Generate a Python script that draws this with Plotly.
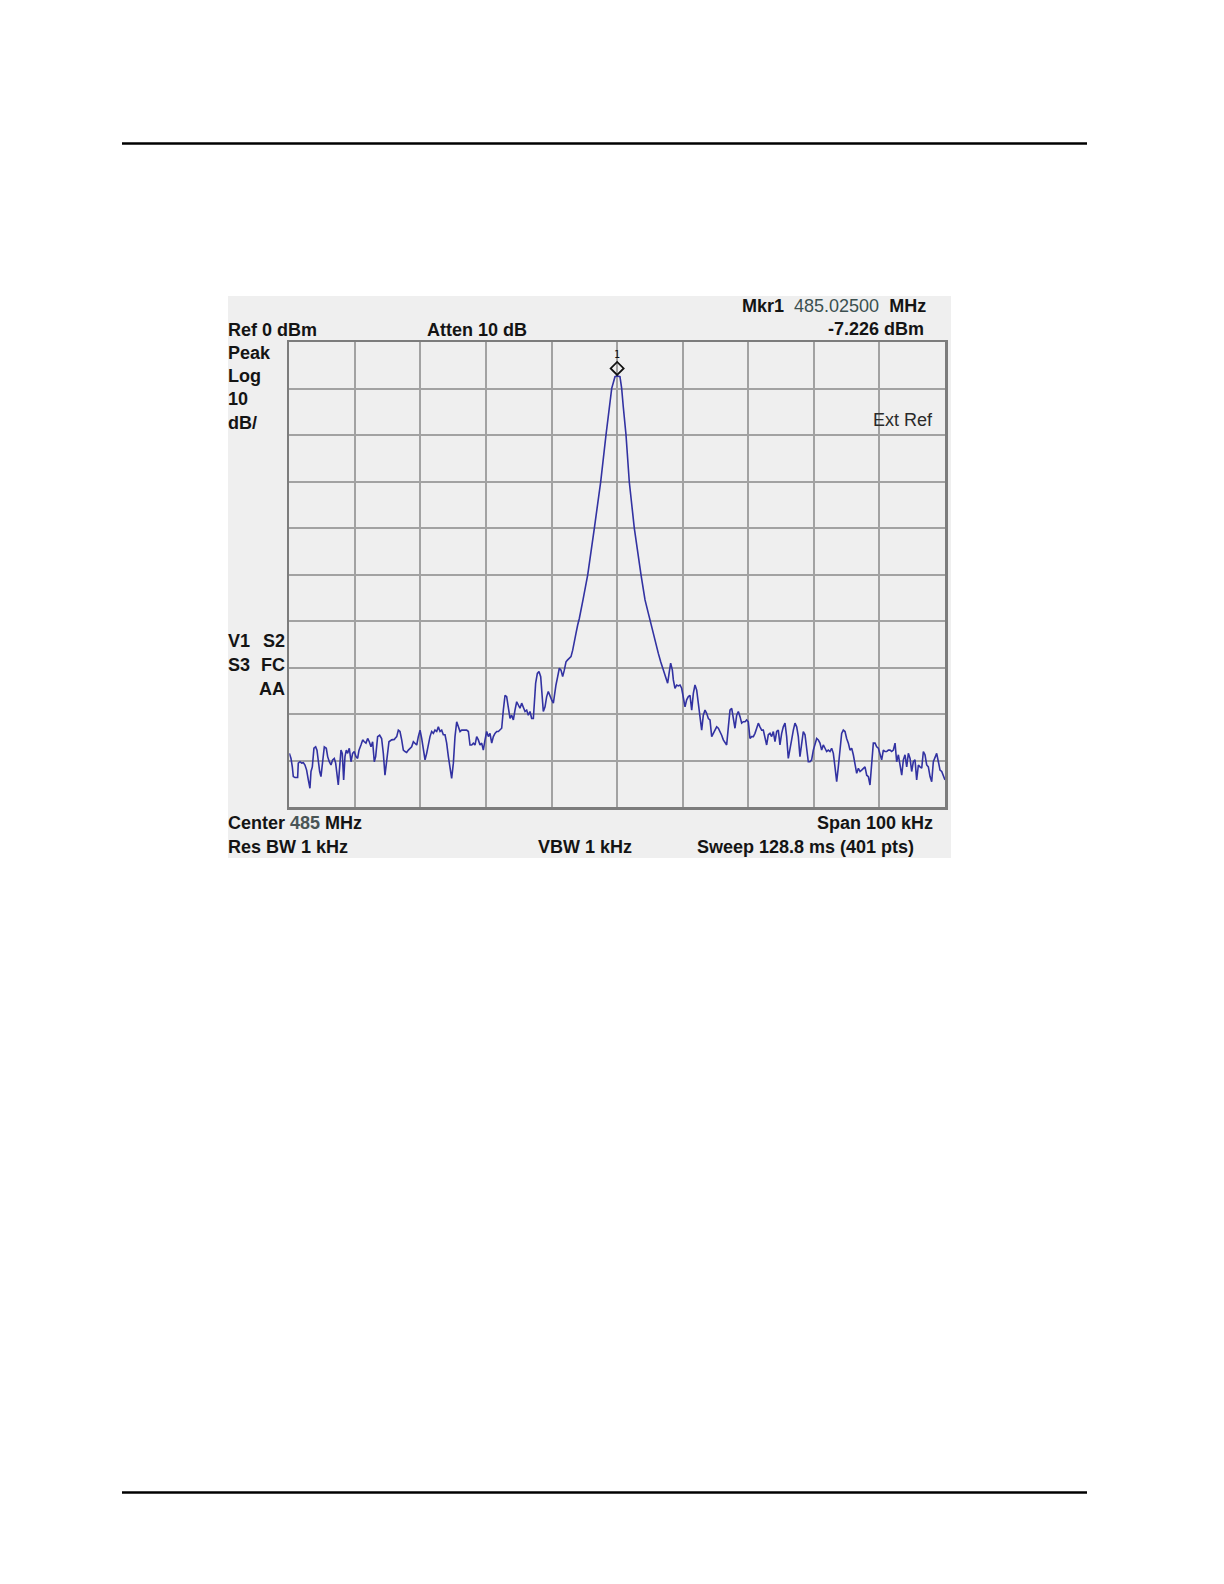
import plotly.graph_objects as go

# ---- instrument settings (text shown on the screen) ----
ref_level_dbm = 0
atten_db = 10
db_per_div = 10
center_mhz = 485
span_khz = 100
rbw_khz = 1
vbw_khz = 1
sweep_ms = 128.8
sweep_pts = 401
mkr_label = "485.02500"
mkr_khz = 0.0
mkr_dbm = -7.226

# ---- trace: offset from centre (kHz), level (dBm) ----
freq_khz = [
    -50.00, -49.74, -49.54, -49.39, -49.13, -48.73, -48.63, -48.37, -48.12, -47.86,
    -47.61, -47.36, -47.10, -46.85, -46.69, -46.49, -46.24, -45.98, -45.78, -45.58,
    -45.37, -45.17, -44.97, -44.66, -44.36, -44.15, -43.90, -43.64, -43.39, -43.14,
    -42.93, -42.73, -42.53, -42.32, -42.12, -41.92, -41.71, -41.51, -41.31, -41.10,
    -40.85, -40.59, -40.34, -40.09, -39.83, -39.58, -39.37, -39.07, -38.81, -38.56,
    -38.31, -38.05, -37.80, -37.54, -37.29, -37.04, -36.83, -36.53, -36.22, -35.92,
    -35.66, -35.41, -35.15, -34.80, -34.39, -33.98,
    -33.88, -33.62, -33.37, -33.12, -32.86, -32.61, -32.35, -32.10, -31.84, -31.59,
    -31.34, -31.08, -30.83, -30.57, -30.32, -30.06, -29.81, -29.56, -29.30, -29.05,
    -28.79, -28.54, -28.29, -28.03, -27.78, -27.52, -27.27, -27.01, -26.76, -26.51,
    -26.25, -26.00, -25.74, -25.49, -25.24, -24.98, -24.73, -24.47, -24.22, -23.96,
    -23.71, -23.46, -23.20, -22.95, -22.69, -22.44, -22.18, -21.93, -21.68, -21.42,
    -21.17, -20.91, -20.66, -20.41, -20.15, -19.90, -19.64, -19.39, -19.13, -18.88,
    -18.63, -18.37, -18.12,
    -17.61, -17.36, -17.10, -16.85, -16.60, -16.34, -16.09, -15.83, -15.58, -15.32,
    -15.07, -14.82, -14.56, -14.31, -14.05, -13.80, -13.55, -13.29, -13.04, -12.78,
    -12.63, -12.43, -12.17, -11.92, -11.66, -11.51, -11.26, -11.00, -10.75, -10.50,
    -10.24, -9.99, -9.73, -9.58, -9.33, -9.07, -8.82, -8.56, -8.31, -8.06,
    -7.80, -7.55, -7.29, -7.04, -6.78, -6.53, -6.28, -6.02, -5.77,
    -5.21, -4.49, -3.48, -2.51, -1.70, -1.20, -0.83, -0.33, 0.00, 0.43,
    0.69, 0.93, 1.35, 1.85, 2.62, 3.64,
    4.25, 4.76, 5.11, 5.52, 5.93, 6.28, 6.64, 7.04, 7.40, 7.70,
    7.96, 8.16, 8.42, 8.57, 8.82, 9.08, 9.33, 9.59, 9.84, 10.09,
    10.35, 10.60, 10.86, 11.11, 11.37, 11.62, 11.87, 12.13, 12.38, 12.64,
    12.89, 13.14, 13.40, 13.65, 13.91, 14.16, 14.42, 14.67, 14.92, 15.18,
    15.43, 15.69, 15.94, 16.19, 16.45, 16.70, 16.96, 17.21, 17.47, 17.72,
    17.97, 18.23, 18.48, 18.74,
    18.99, 19.24, 19.50, 19.75, 20.00, 20.26, 20.51, 20.77, 21.02, 21.28,
    21.53, 21.78, 22.04, 22.29, 22.55, 22.80, 23.05, 23.31, 23.56, 23.82,
    24.07, 24.33, 24.58, 24.83, 25.09, 25.34, 25.60, 25.85, 26.10, 26.36,
    26.61, 26.87, 27.12, 27.38, 27.63, 27.88, 28.14, 28.39, 28.65, 28.90,
    29.15, 29.41, 29.66, 29.92, 30.17, 30.43, 30.68, 30.93, 31.19, 31.44,
    31.70, 31.95, 32.20, 32.46, 32.71, 32.97, 33.22, 33.48, 33.73, 33.98,
    34.24, 34.49, 34.75,
    35.00, 35.26, 35.51, 35.77, 36.02, 36.28, 36.53, 36.79, 37.04, 37.29,
    37.55, 37.80, 38.06, 38.31, 38.56, 38.82, 39.07, 39.33, 39.58, 39.84,
    40.09, 40.34, 40.60, 40.85, 41.11, 41.36, 41.62, 41.87, 42.12, 42.38,
    42.63, 42.89, 43.14, 43.40, 43.65, 43.90, 44.16, 44.41, 44.67, 44.92,
    45.17, 45.43, 45.68, 45.94, 46.19, 46.45, 46.70, 46.95, 47.21, 47.46,
    47.72, 47.97, 48.22, 48.48, 48.73, 48.99, 49.24, 49.50, 49.75, 50.00,
]

level_dbm = [
    -88.4, -89.5, -91.3, -93.4, -93.6, -93.6, -90.5, -90.2, -90.5, -90.4,
    -90.9, -92.0, -94.1, -95.9, -92.3, -91.3, -87.3, -87.0, -87.7, -90.5,
    -92.3, -93.4, -91.3, -87.0, -87.3, -89.1, -90.2, -90.9, -89.8, -89.5,
    -90.5, -93.4, -95.2, -91.3, -87.7, -88.4, -94.1, -89.1, -87.7, -88.4,
    -87.3, -90.2, -88.4, -88.0, -89.1, -89.5, -87.7, -86.6, -85.5, -85.9,
    -86.2, -85.2, -85.9, -87.0, -85.9, -90.2, -89.1, -84.8, -84.5, -85.2,
    -88.4, -93.1, -89.5, -85.9, -85.5, -85.4,
    -85.2, -84.8, -83.4, -83.7, -85.5, -87.7, -88.0, -88.2, -87.7, -87.3,
    -87.0, -85.9, -86.2, -86.6, -84.8, -83.4, -85.2, -87.3, -89.8, -88.4,
    -86.2, -84.8, -83.7, -84.1, -83.4, -83.7, -82.7, -83.7, -83.4, -84.4,
    -84.4, -86.2, -89.1, -91.6, -93.8, -90.5, -84.8, -81.6, -82.7, -83.7,
    -83.4, -83.4, -83.4, -83.4, -83.7, -86.6, -86.6, -86.2, -86.6, -84.8,
    -85.5, -86.6, -86.2, -87.7, -85.5, -83.7, -84.8, -84.1, -86.2, -84.8,
    -84.1, -83.7, -83.7,
    -83.0, -79.1, -75.9, -76.2, -79.1, -80.9, -80.2, -81.2, -79.1, -77.3,
    -78.0, -78.7, -77.6, -78.4, -79.4, -79.1, -80.2, -79.4, -80.9, -80.9,
    -78.4, -73.3, -71.2, -70.8, -71.9, -75.1, -79.4, -78.4, -76.2, -75.1,
    -76.2, -76.9, -77.6, -75.9, -73.7, -71.9, -70.1, -70.5, -71.9, -70.5,
    -68.7, -68.3, -68.0, -67.6, -66.2, -64.0, -62.6, -60.8, -59.4,
    -55.4, -50.0, -40.0, -30.0, -19.9, -13.8, -9.9, -7.4, -7.226, -7.4,
    -9.9, -13.8, -19.9, -30.0, -40.0, -50.0,
    -55.4, -58.3, -60.4, -62.6, -64.7, -66.9, -68.7, -70.5, -71.9, -73.3,
    -70.8, -69.0, -70.5, -72.6, -74.4, -73.7, -73.9, -73.7, -74.4, -76.2,
    -78.4, -76.9, -76.2, -75.9, -79.1, -75.5, -73.7, -74.8, -77.6, -80.2,
    -83.4, -80.2, -79.1, -79.8, -80.9, -81.2, -84.8, -84.1, -83.4, -82.7,
    -83.0, -83.7, -84.5, -85.5, -86.2, -86.6, -82.7, -79.1, -78.7, -80.9,
    -83.0, -80.2, -79.4, -80.5,
    -81.9, -81.6, -81.6, -81.2, -81.6, -85.2, -84.8, -84.8, -84.1, -83.0,
    -81.9, -82.7, -83.4, -83.4, -85.5, -86.6, -84.4, -84.1, -84.8, -83.7,
    -85.9, -83.7, -83.4, -86.6, -84.1, -82.7, -81.9, -84.8, -89.5, -87.0,
    -85.5, -83.4, -81.9, -82.7, -84.8, -89.1, -86.2, -83.7, -84.4, -87.0,
    -90.2, -90.2, -89.8, -87.7, -86.2, -85.2, -85.5, -86.2, -87.7, -86.6,
    -87.3, -88.0, -87.7, -88.0, -87.3, -88.4, -91.3, -94.5, -91.3, -87.7,
    -84.1, -83.4, -83.7,
    -85.2, -86.2, -87.7, -87.3, -88.7, -90.5, -92.7, -91.6, -92.3, -92.0,
    -91.6, -91.3, -93.1, -93.4, -95.2, -89.5, -86.2, -86.2, -87.0, -87.3,
    -88.7, -89.8, -87.7, -88.0, -88.0, -87.7, -87.7, -88.0, -87.7, -86.2,
    -90.2, -88.7, -90.9, -93.1, -89.8, -88.7, -91.3, -88.4, -89.5, -92.3,
    -90.2, -89.8, -94.1, -90.9, -91.3, -91.6, -88.0, -88.7, -90.9, -91.3,
    -93.4, -94.5, -90.2, -89.1, -88.4, -90.2, -92.0, -92.3, -93.1, -94.1,
]

W, H = 1224, 1584
def px(x):
    return x / W
def py(y):
    return 1 - y / H

PANEL = "#EFEFEF"
TXT = "#141414"
VAL = "#3C5050"
FONT = "Liberation Sans, Arial, sans-serif"
GRID = "#A2A2A2"

fig = go.Figure()
fig.add_trace(go.Scatter(
    x=freq_khz, y=level_dbm, mode="lines",
    line=dict(color="#3232A2", width=1.6),
    hoverinfo="skip", showlegend=False,
))

half = span_khz / 2
fig.update_layout(
    width=W, height=H,
    margin=dict(l=0, r=0, t=0, b=0),
    paper_bgcolor="white",
    plot_bgcolor=PANEL,
    showlegend=False,
    xaxis=dict(
        domain=[px(289.3), px(945.0)], range=[-half, half],
        tick0=-half, dtick=span_khz / 10,
        showgrid=True, gridcolor=GRID, gridwidth=2,
        showticklabels=False, ticks="", zeroline=False,
        showline=True, mirror=True, linecolor="#7C7C7C", linewidth=2.5,
        fixedrange=True,
    ),
    yaxis=dict(
        domain=[py(807.3), py(342.3)],
        range=[ref_level_dbm - 10 * db_per_div, ref_level_dbm],
        tick0=ref_level_dbm, dtick=db_per_div,
        showgrid=True, gridcolor=GRID, gridwidth=2,
        showticklabels=False, ticks="", zeroline=False,
        showline=True, mirror=True, linecolor="#7C7C7C", linewidth=2.5,
        fixedrange=True,
    ),
)

shapes = [
    # instrument screen background
    dict(type="rect", xref="paper", yref="paper",
         x0=px(228), x1=px(951), y0=py(858), y1=py(296),
         fillcolor=PANEL, line=dict(width=0), layer="below"),
    # page rules
    dict(type="line", xref="paper", yref="paper",
         x0=px(122), x1=px(1087), y0=py(143.4), y1=py(143.4),
         line=dict(color="black", width=2.5)),
    dict(type="line", xref="paper", yref="paper",
         x0=px(122), x1=px(1087), y0=py(1492.6), y1=py(1492.6),
         line=dict(color="black", width=2.5)),
    # marker diamond sitting on the peak
    dict(type="path", xref="x", yref="y",
         xsizemode="pixel", ysizemode="pixel",
         xanchor=mkr_khz, yanchor=mkr_dbm,
         path="M0,1 L6.5,7.5 L0,14 L-6.5,7.5 Z",
         line=dict(color="#111111", width=1.8), fillcolor="rgba(0,0,0,0)"),
]
fig.update_layout(shapes=shapes)

def ann(text, x, y, anchor="left", size=18, color=TXT):
    return dict(text=text, x=px(x), y=py(y), xref="paper", yref="paper",
                xanchor=anchor, yanchor="middle", showarrow=False,
                font=dict(family=FONT, size=size, color=color))

annotations = [
    ann(f"<b>Ref {ref_level_dbm} dBm</b>", 226, 330),
    ann(f"<b>Atten {atten_db} dB</b>", 424.5, 330),
    ann(f"<b>Mkr1</b>  <span style='color:{VAL}'>{mkr_label}</span>  <b>MHz</b>", 928, 306, "right"),
    ann(f"<b>{mkr_dbm} dBm</b>", 926, 328.5, "right"),
    ann("<b>Peak</b>", 226, 352.5),
    ann("<b>Log</b>", 226, 376),
    ann(f"<b>{db_per_div}</b>", 226, 399),
    ann("<b>dB/</b>", 226, 423),
    ann("Ext Ref", 935, 420, "right", color="#2A2A2A"),
    ann("<b>V1</b>", 226, 641),
    ann("<b>S2</b>", 287, 641, "right"),
    ann("<b>S3</b>", 226, 665),
    ann("<b>FC</b>", 287, 665, "right"),
    ann("<b>AA</b>", 287, 689, "right"),
    ann(f"<b>Center <span style='color:#4A5555'>{center_mhz}</span> MHz</b>", 226, 823),
    ann(f"<b>Span {span_khz} kHz</b>", 935, 823, "right"),
    ann(f"<b>Res BW {rbw_khz} kHz</b>", 226, 847),
    ann(f"<b>VBW {vbw_khz} kHz</b>", 536, 847),
    ann(f"<b>Sweep {sweep_ms} ms ({sweep_pts} pts)</b>", 916, 847, "right"),
    dict(text="1", x=mkr_khz, y=mkr_dbm, xref="x", yref="y",
         xanchor="center", yanchor="bottom", yshift=14, showarrow=False,
         font=dict(family="DejaVu Sans Mono, monospace", size=10, color="#111111")),
]
fig.update_layout(annotations=annotations)

fig.write_html(
    "out.html",
    config={"displayModeBar": False, "staticPlot": True},
    post_script="document.body.style.margin='0';document.body.style.padding='0';",
)
